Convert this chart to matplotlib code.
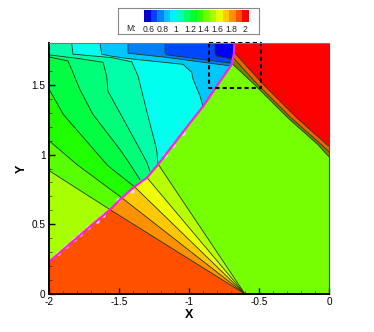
#!/usr/bin/env python3
"""Mach number contours, oblique shock and fan, Tecplot look."""
import matplotlib
matplotlib.use("Agg")
import matplotlib.pyplot as plt
import numpy as np
from matplotlib.colors import ListedColormap

plt.rcParams["font.family"] = ["Liberation Sans", "DejaVu Sans"]

W, H = 374, 332
INK = "#1d3a1d"

# shock trace, bottom left to top
shock = [(-2, .23), (-1.85, .36), (-1.7, .49), (-1.564, .605), (-1.48, .69), (-1.39, .77),
         (-1.30, .834), (-1.22, .93), (-.99, 1.23), (-.9, 1.345), (-.695, 1.647),
         (-.68, 1.72), (-.675, 1.8)]
# pale stair corners that stick out of the shock line
bump_x = [-1.933, -1.879, -1.819, -1.779, -1.719, -1.659, -1.616, -1.505, -1.409, -1.171, -1.112, -1.041]
bump_y = [.293, .345, .396, .432, .477, .52, .568, .676, .736, 1.0, 1.072, 1.156]

# contours upstream of the shock
up_a = [(-2, .885), (-1.564, .605)]
up_b = [(-2, 1.10), (-1.80, .928), (-1.671, .832), (-1.48, .69)]
up_c = [(-2, 1.47), (-1.898, 1.288), (-1.58, .92), (-1.39, .77)]
up_d = [(-2, 1.70), (-1.864, 1.671), (-1.83, 1.59), (-1.78, 1.468), (-1.686, 1.288),
        (-1.493, 1.036), (-1.429, .942), (-1.35, .82)]
up_e = [(-2, 1.715), (-1.8, 1.69), (-1.614, 1.662), (-1.588, 1.563), (-1.579, 1.455),
        (-1.436, 1.194), (-1.35, 1.036), (-1.3, .942), (-1.279, .88)]
up_f = [(-1.838, 1.8), (-1.829, 1.72), (-1.552, 1.695), (-1.409, 1.665), (-1.364, 1.563),
        (-1.302, 1.312), (-1.231, 1.036), (-1.221, .928)]
up_g = [(-1.636, 1.8), (-1.624, 1.72), (-1.552, 1.705), (-1.421, 1.687), (-1.043, 1.647),
        (-.981, 1.59), (-.971, 1.54), (-.921, 1.419), (-.9, 1.345)]
up_h = [(-1.436, 1.8), (-1.436, 1.727), (-1.186, 1.70), (-.70, 1.635)]
up_i = [(-1.171, 1.8), (-1.171, 1.73), (-1.157, 1.715), (-.697, 1.655)]
up_j = [(-.814, 1.8), (-.814, 1.72), (-.802, 1.707), (-.686, 1.683)]
up_levels = [up_a, up_b, up_c, up_d, up_e, up_f, up_g, up_h, up_i, up_j]
up_colors = ["#a8ff00", "#58ff00", "#20ff00", "#00ff40", "#00ff78", "#00ffa8", "#00ffee",
             "#00c8ff", "#0080ff", "#0048ff", "#0000f0"]

# fan lines all leave the foot and end on the shock
foot = (-.6, 0)
fan_ends = [(-1.22, .93), (-1.30, .834), (-1.39, .77), (-1.48, .69), (-1.564, .605)]
fan_colors = ["#76ff00", "#b8ff00", "#f0ff00", "#ffc800", "#ff9000", "#ff5000"]

# reflected shock band at top right
red_edge = [(-.675, 1.73), (-.471, 1.504), (-.231, 1.264), (-.016, 1.072), (0, 1.06)]
orange_edge = [(-.68, 1.69), (-.511, 1.504), (-.271, 1.264), (-.056, 1.072), (0, 1.02)]
low_edge = [(-.69, 1.65), (-.535, 1.504), (-.295, 1.264), (-.08, 1.072), (-.015, 1.0), (0, .985)]

box_x = [-.857, -.488, -.488, -.857, -.857]
box_y = [1.8, 1.8, 1.48, 1.48, 1.8]

bar_colors = ["#0000d0", "#0040ff", "#0080ff", "#00c0ff", "#00f0ff", "#00ffb0", "#00ff70", "#00ff30",
              "#30ff00", "#70ff00", "#a8ff00", "#e8ff00", "#ffc800", "#ff9000", "#ff5000", "#ff0000"]
bar_ticks = [.6, .8, 1, 1.2, 1.4, 1.6, 1.8, 2]
bar_labels = ["0.6", "0.8", "1", "1.2", "1.4", "1.6", "1.8", "2"]

fig = plt.figure(figsize=(W / 100, H / 100), dpi=100)
ax = fig.add_axes([49 / W, 1 - 294 / H, 280 / W, 251 / H])

# upstream, painted from low to high; overshoot past the shock gets covered below
over = [(-.6, .9), (-.6, 1.8)]
ax.fill(*zip(*(shock + [(-.6, 1.8), (-2, 1.8)])), color=up_colors[0], lw=0)
for line, col in zip(up_levels, up_colors[1:]):
    tail = [(-2, 1.8)] if line[0][0] == -2 else []
    ax.fill(*zip(*(line + over + tail)), color=col, lw=0)

# downstream
ax.fill(*zip(*(shock + [(0, 1.8), (0, 0), (-2, 0)])), color=fan_colors[0], lw=0)
for end, col in zip(fan_ends, fan_colors[1:]):
    part = [p for p in shock if p[0] <= end[0]]
    ax.fill(*zip(*(part + [foot, (-2, 0)])), color=col, lw=0)

ax.fill(*zip(*(low_edge + orange_edge[::-1])), color="#7c8000", lw=0)
ax.fill(*zip(*(orange_edge + red_edge[::-1])), color="#ff5c00", lw=0)
ax.fill(*zip(*(red_edge + [(0, 1.8), (-.675, 1.8)])), color="#ff0000", lw=0)

for line in up_levels:
    ax.plot(*zip(*line), color=INK, lw=.6)
for end in fan_ends:
    ax.plot(*zip(end, foot), color=INK, lw=.6)
for line in (red_edge, orange_edge, low_edge):
    ax.plot(*zip(*line), color=INK, lw=.6)

ax.plot(bump_x, bump_y, ls="none", marker="o", ms=3.2, mfc="#e8d8e8", mec="none")
ax.plot(*zip(*shock), color="#ff20e0", lw=1.6, solid_capstyle="butt")
ax.plot(box_x, box_y, color="k", lw=1.5, ls=(0, (2, 1.5)), clip_on=False)

ax.set_xlim(-2, 0)
ax.set_ylim(0, 1.8)
ax.set_xticks([-2, -1.5, -1, -.5, 0])
ax.set_xticklabels(["-2", "-1.5", "-1", "-0.5", "0"])
ax.set_yticks([0, .5, 1, 1.5])
ax.set_yticklabels(["0", "0.5", "1", "1.5"])
ax.set_xticks(np.arange(-2, .01, .1), minor=True)
ax.set_yticks(np.arange(0, 1.81, .1), minor=True)
ax.tick_params(which="major", direction="in", length=4.4, width=1, labelsize=7.2, pad=2.5, color="k")
ax.tick_params(which="minor", direction="in", length=2.2, width=.5, color="#222222")
ax.set_xlabel("X", fontsize=9, fontweight="bold", labelpad=1)
ax.set_ylabel("Y", fontsize=9, fontweight="bold", labelpad=3)
for side in ("left", "bottom"):
    ax.spines[side].set_linewidth(1.4)
ax.spines["top"].set_color("#777777")
ax.spines["top"].set_linewidth(.8)
ax.spines["right"].set_color("#445522")
ax.spines["right"].set_linewidth(.8)

# legend box with its colour strip
lbox = fig.add_axes([118 / W, 1 - 34 / H, 141 / W, 26.5 / H])
lbox.set_xticks([]); lbox.set_yticks([])
for s in lbox.spines.values():
    s.set_color("#888888"); s.set_linewidth(.8)
bar = fig.add_axes([144.3 / W, 1 - 22.3 / H, 104.7 / W, 12.8 / H])
edges = np.linspace(.542, 2.053, len(bar_colors) + 1)
bar.pcolormesh(edges, [0, 1], np.arange(len(bar_colors)).reshape(1, -1),
               cmap=ListedColormap(bar_colors), shading="flat")
bar.set_yticks([])
bar.set_xticks(bar_ticks)
bar.set_xticklabels(bar_labels)
bar.tick_params(axis="x", length=0, labelsize=6.2, pad=2, labelcolor="#222222")
for s in bar.spines.values():
    s.set_visible(False)
fig.text(131.5 / W, 1 - 28.7 / H, "M:", fontsize=6.2, color="#222222", ha="center", va="center")

fig.savefig("out.png", dpi=100)
